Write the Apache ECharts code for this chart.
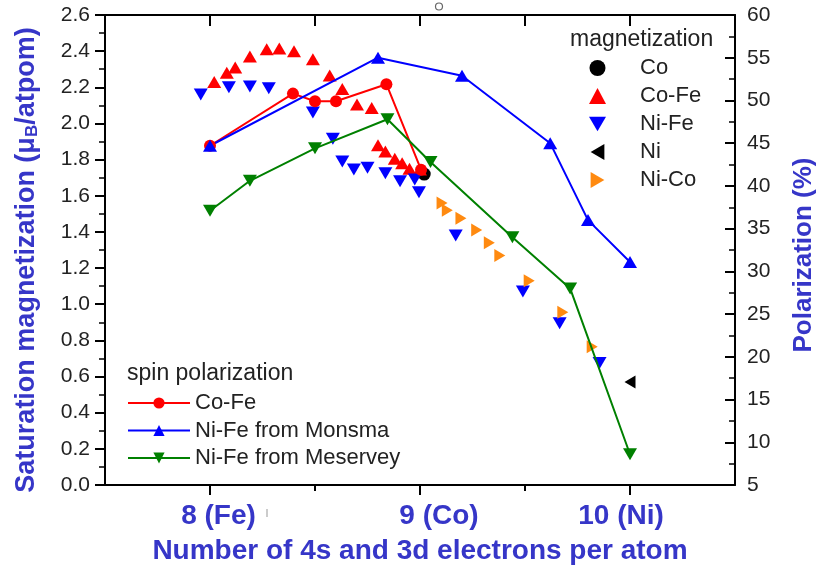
<!DOCTYPE html>
<html>
<head>
<meta charset="utf-8">
<script src="https://cdn.jsdelivr.net/npm/echarts@6/dist/echarts.min.js"></script>
<style>html,body{margin:0;padding:0;background:#fff;}#c{width:825px;height:575px;}</style>
</head>
<body>
<div id="c"></div>
<script>
// ---- tick labels ----
const xTickValues = [8, 9, 10];
const xTickLabels = ['8 (Fe)', '9 (Co)', '10 (Ni)'];

// ---- magnetization (left axis, μB/atom) ----
const coX = [9.02];
const coY = [1.72];
const coFeX = [8.02, 8.08, 8.12, 8.19, 8.27, 8.33, 8.40, 8.49, 8.57, 8.63, 8.70, 8.77, 8.80, 8.835, 8.88, 8.915, 8.95, 9.00];
const coFeY = [2.23, 2.28, 2.31, 2.37, 2.41, 2.415, 2.40, 2.355, 2.265, 2.19, 2.105, 2.085, 1.88, 1.845, 1.805, 1.78, 1.75, 1.745];
const niFeX = [7.956, 8.09, 8.19, 8.28, 8.49, 8.585, 8.63, 8.685, 8.75, 8.835, 8.905, 8.975, 8.995, 9.17, 9.49, 9.665, 9.855];
const niFeY = [2.16, 2.20, 2.205, 2.195, 2.06, 1.915, 1.79, 1.745, 1.755, 1.725, 1.68, 1.69, 1.62, 1.38, 1.07, 0.895, 0.675];
const niX = [10.0];
const niY = [0.57];
const niCoX = [9.105, 9.13, 9.195, 9.27, 9.33, 9.38, 9.52, 9.68, 9.82];
const niCoY = [1.56, 1.52, 1.475, 1.41, 1.34, 1.27, 1.13, 0.955, 0.765];

// ---- spin polarization (right axis, %) ----
const polCoFeX = [8.0, 8.395, 8.50, 8.60, 8.84, 9.005];
const polCoFeY = [44.7, 50.8, 49.9, 49.9, 51.9, 41.9];
const monsmaX = [8.0, 8.80, 9.20, 9.62, 9.80, 10.0];
const monsmaY = [44.7, 55.0, 52.9, 45.0, 36.0, 31.1];
const meserveyX = [8.0, 8.19, 8.50, 8.845, 9.05, 9.44, 9.715, 10.0];
const meserveyY = [37.1, 40.6, 44.4, 47.8, 42.8, 34.0, 28.0, 8.6];

const zip = (xs, ys) => xs.map((x, i) => [x, ys[i]]);

const BLUE_TXT = '#3636c8';
const FONT = '"Liberation Sans", Arial, sans-serif';
const TXT = '#222';

const TRI_DOWN = 'path://M0,0 L14,0 L7,12 Z';
const TRI_LEFT = 'path://M12,0 L12,14 L0,7 Z';
const TRI_RIGHT = 'path://M0,0 L12,7 L0,14 Z';

const chart = echarts.init(document.getElementById('c'), null, {renderer: 'canvas'});

const scatter = (name, data, color, symbol, rot, size) => ({
  name, type: 'scatter', data, xAxisIndex: 0, yAxisIndex: 0,
  symbol, symbolRotate: rot, symbolSize: size,
  itemStyle: {color, opacity: 1}, z: 3
});
const line = (name, data, color, symbol, rot, size) => ({
  name, type: 'line', data, xAxisIndex: 0, yAxisIndex: 1,
  symbol, symbolRotate: rot, symbolSize: size, showSymbol: true,
  lineStyle: {color, width: 2}, itemStyle: {color, opacity: 1}, z: 4
});

const option = {
  animation: false,
  backgroundColor: '#fff',
  textStyle: {fontFamily: FONT},
  title: [
    {text: 'magnetization', left: 570, top: 28, padding: 0,
     textStyle: {fontSize: 23, fontWeight: 'normal', color: TXT, fontFamily: FONT}},
    {text: 'spin polarization', left: 127, top: 362, padding: 0,
     textStyle: {fontSize: 23, fontWeight: 'normal', color: TXT, fontFamily: FONT}}
  ],
  legend: [
    {data: [
       {name: 'Co', icon: 'circle'},
       {name: 'Co-Fe', icon: 'triangle'},
       {name: 'Ni-Fe', icon: TRI_DOWN},
       {name: 'Ni', icon: TRI_LEFT},
       {name: 'Ni-Co', icon: TRI_RIGHT}],
     orient: 'vertical',
     left: 589, top: 56, padding: 0, itemWidth: 17, itemHeight: 16, itemGap: 4,
     textStyle: {fontSize: 22, color: TXT, fontFamily: FONT, lineHeight: 24, padding: [0, 0, 0, 29]}},
    {data: [
       {name: 'Co-Fe (P)'},
       {name: 'Ni-Fe from Monsma'},
       {name: 'Ni-Fe from Meservey'}],
     orient: 'vertical',
     left: 127, top: 391, padding: 0, itemWidth: 62, itemHeight: 14, itemGap: 3.5,
     formatter: n => n.replace(' (P)', ''),
     textStyle: {fontSize: 22, color: TXT, fontFamily: FONT, lineHeight: 24}}
  ],
  grid: {left: 105, right: 90, top: 15, bottom: 90, containLabel: false, outerBoundsMode: 'none'},
  xAxis: [
    {type: 'value', min: 7.5, max: 10.5, interval: 0.5, position: 'bottom',
     axisLine: {show: true, onZero: false, lineStyle: {color: '#000', width: 2}},
     axisTick: {show: true, length: 10, customValues: xTickValues, lineStyle: {color: '#000', width: 2}},
     axisLabel: {show: true, customValues: xTickValues, margin: 17,
       formatter: v => { const i = xTickValues.indexOf(v); return i < 0 ? '' : '{t' + i + '|' + xTickLabels[i] + '}'; },
       fontSize: 28, fontWeight: 'bold', color: BLUE_TXT, fontFamily: FONT,
       rich: {
         t0: {fontSize: 28, fontWeight: 'bold', color: BLUE_TXT, fontFamily: FONT, padding: [0, 0, 0, 17]},
         t1: {fontSize: 28, fontWeight: 'bold', color: BLUE_TXT, fontFamily: FONT, padding: [0, 0, 0, 38]},
         t2: {fontSize: 28, fontWeight: 'bold', color: BLUE_TXT, fontFamily: FONT, padding: [0, 18, 0, 0]}
       }},
     splitLine: {show: false},
     name: 'Number of 4s and 3d electrons per atom', nameLocation: 'middle', nameGap: 52,
     nameTextStyle: {fontSize: 28, fontWeight: 'bold', color: BLUE_TXT, fontFamily: FONT}},
    {type: 'value', min: 7.5, max: 10.5, interval: 0.5, position: 'bottom',
     axisLine: {show: false},
     axisTick: {show: true, length: 6, customValues: [8.5, 9.5], lineStyle: {color: '#000', width: 2}},
     axisLabel: {show: false}, splitLine: {show: false}},
    {type: 'value', min: 7.5, max: 10.5, interval: 0.5, position: 'top',
     axisLine: {show: true, onZero: false, lineStyle: {color: '#000', width: 2}},
     axisTick: {show: true, inside: true, length: 11, lineStyle: {color: '#000', width: 2}},
     axisLabel: {show: false}, splitLine: {show: false}}
  ],
  yAxis: [
    {type: 'value', min: 0, max: 2.6, interval: 0.2, position: 'left',
     axisLine: {show: true, onZero: false, lineStyle: {color: '#000', width: 2}},
     axisTick: {show: true, length: 10, lineStyle: {color: '#000', width: 2}},
     minorTick: {show: true, splitNumber: 2, length: 6, lineStyle: {color: '#000', width: 1.5}},
     axisLabel: {margin: 15, formatter: v => v.toFixed(1), fontSize: 21, color: TXT, fontFamily: FONT},
     splitLine: {show: false},
     name: '{n|Saturation magnetization (μ}{s|B}{n|/atpom)}', nameLocation: 'middle', nameGap: 64, nameRotate: 90,
     nameTextStyle: {padding: [0, 20, 0, 0],
       rich: {
         n: {fontSize: 27, fontWeight: 'bold', color: BLUE_TXT, fontFamily: FONT},
         s: {fontSize: 17, fontWeight: 'bold', color: BLUE_TXT, fontFamily: FONT, padding: [12, 0, 0, 0]}
       }}},
    {type: 'value', min: 5, max: 60, interval: 5, position: 'right',
     axisLine: {show: true, onZero: false, lineStyle: {color: '#000', width: 2}},
     axisTick: {show: true, inside: true, length: 10, lineStyle: {color: '#000', width: 2}},
     minorTick: {show: true, splitNumber: 2, length: 6, lineStyle: {color: '#000', width: 1.5}},
     axisLabel: {margin: 12, fontSize: 21, color: TXT, fontFamily: FONT},
     splitLine: {show: false},
     name: 'Polarization (%)', nameLocation: 'middle', nameGap: 56, nameRotate: 90,
     nameTextStyle: {fontSize: 26, fontWeight: 'bold', color: BLUE_TXT, fontFamily: FONT, padding: [0, 10, 0, 0]}}
  ],
  graphic: [
    {type: 'circle', shape: {cx: 439, cy: 6.5, r: 3.5}, style: {fill: 'none', stroke: '#666', lineWidth: 1.2}},
    {type: 'line', shape: {x1: 267, y1: 509, x2: 267, y2: 517}, style: {stroke: '#bbb', lineWidth: 1.5}}
  ],
  series: [
    scatter('Co', zip(coX, coY), '#000000', 'circle', 0, 13),
    scatter('Co-Fe', zip(coFeX, coFeY), '#ff0000', 'triangle', 0, [14, 12]),
    scatter('Ni-Fe', zip(niFeX, niFeY), '#0000ff', 'triangle', 180, [14, 12]),
    scatter('Ni', zip(niX, niY), '#000000', 'triangle', 90, [13, 11]),
    scatter('Ni-Co', zip(niCoX, niCoY), '#ff8a10', 'triangle', -90, [13, 11]),
    line('Co-Fe (P)', zip(polCoFeX, polCoFeY), '#ff0000', 'circle', 0, 12),
    line('Ni-Fe from Monsma', zip(monsmaX, monsmaY), '#0000ff', 'triangle', 0, [14, 12]),
    line('Ni-Fe from Meservey', zip(meserveyX, meserveyY), '#008000', 'triangle', 180, [14, 12])
  ]
};
chart.setOption(option);
</script>
</body>
</html>
